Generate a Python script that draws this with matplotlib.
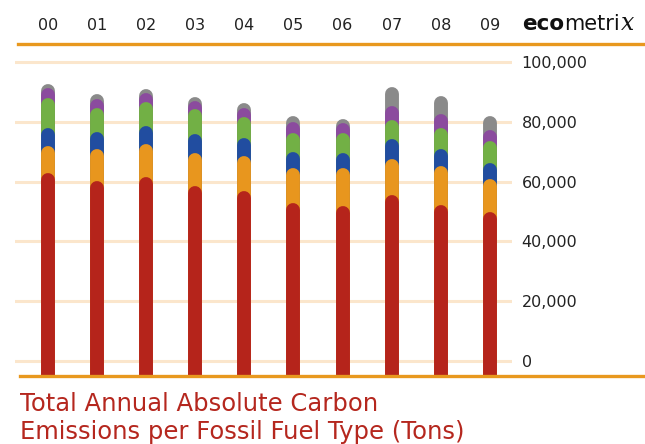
import numpy as np
import matplotlib
matplotlib.use("Agg")
import matplotlib.pyplot as plt
from matplotlib.lines import Line2D
from matplotlib.transforms import blended_transform_factory

plt.rcParams['font.family'] = ['DejaVu Sans']

years = ["00", "01", "02", "03", "04", "05", "06", "07", "08", "09"]

# tons per fuel type, bottom layer first
fuel_red    = [62900, 60300, 61600, 58500, 57000, 52800, 51800, 55500, 52200, 49800]
fuel_orange = [9000, 10500, 11000, 10900, 11700, 11600, 12800, 11900, 13000, 11000]
fuel_blue   = [6000, 5900, 6000, 6400, 6000, 5600, 5100, 6700, 5600, 5500]
fuel_green  = [10000, 7800, 8100, 8400, 7000, 6300, 6400, 6500, 7000, 7300]
fuel_purple = [3300, 3100, 2800, 2700, 3000, 3700, 3600, 4700, 4800, 3600]
fuel_gray   = [1500, 1600, 1400, 1500, 1500, 1900, 1200, 6400, 6000, 4700]

layers = [fuel_red, fuel_orange, fuel_blue, fuel_green, fuel_purple, fuel_gray]
colors = ["#b5241b", "#e8961e", "#214da0", "#72b045", "#8b4b9e", "#8a8a8a"]

ticks = [0, 20000, 40000, 60000, 80000, 100000]

W, H = 645, 444
fig = plt.figure(figsize=(W / 100, H / 100), dpi=100)
ax = fig.add_axes([15 / W, (H - 376) / H, (512 - 15) / W, (376 - 44) / H])

ymin, ymax = -5016, 106020
ax.set_xlim(-0.67, 9.45)
ax.set_ylim(ymin, ymax)

x = np.arange(len(years))
tops = np.cumsum(np.array(layers), axis=0)

bar_w = 10.0  # points
# cap radius in data units (half bar width)
r = (bar_w / 2) / 72 * 100 * (ymax - ymin) / (376 - 44)

# draw from top layer down so each rounded segment overlaps the one above
for i in range(len(layers) - 1, -1, -1):
    for xi, t in zip(x, tops[i]):
        ax.plot([xi, xi], [ymin - r * 2, t - r], color=colors[i], lw=bar_w,
                solid_capstyle='round', zorder=3 + (len(layers) - i) * 0.01)

ax.set_yticks(ticks)
ax.set_yticklabels([f"{t:,}" for t in ticks], fontsize=11.5, color="#222222")
ax.yaxis.tick_right()
ax.tick_params(axis='y', length=0, pad=7)
ax.set_xticks([])
ax.grid(axis='y', color="#fbe6cc", lw=2.2, zorder=0)
for s in ax.spines.values():
    s.set_visible(False)

# year labels above the chart
tr = blended_transform_factory(ax.transData, fig.transFigure)
for xi, y in zip(x, years):
    ax.text(xi, (H - 25) / H, y, transform=tr, ha='center', va='center',
            fontsize=11.5, color="#222222")

# orange rules
fig.add_artist(Line2D([18 / W, 1], [(H - 44) / H] * 2, color="#e8981e", lw=2.4))
fig.add_artist(Line2D([20 / W, 1], [(H - 376) / H] * 2, color="#e8981e", lw=2.4))

# logo, pieces placed one after another
renderer = fig.canvas.get_renderer()
ly = (H - 24) / H
t1 = fig.text(522 / W, ly, "eco", fontsize=15.5, fontweight='heavy',
              color="#111111", va='center', ha='left')
x1 = t1.get_window_extent(renderer).x1
t2 = fig.text(x1 / W, ly, "metri", fontsize=15,
              family=['Liberation Sans Narrow', 'DejaVu Sans'], color="#111111",
              va='center', ha='left')
x2 = t2.get_window_extent(renderer).x1
fig.text((x2 + 1) / W, ly, "x", fontsize=17, style='italic',
         family=['DejaVu Serif'], color="#111111", va='center', ha='left')

fig.text(20 / W, (H - 404) / H, "Total Annual Absolute Carbon", fontsize=17.5,
         color="#b5271e", va='center', ha='left')
fig.text(20 / W, (H - 432) / H, "Emissions per Fossil Fuel Type (Tons)", fontsize=17.5,
         color="#b5271e", va='center', ha='left')

fig.savefig("out.png", dpi=100)
